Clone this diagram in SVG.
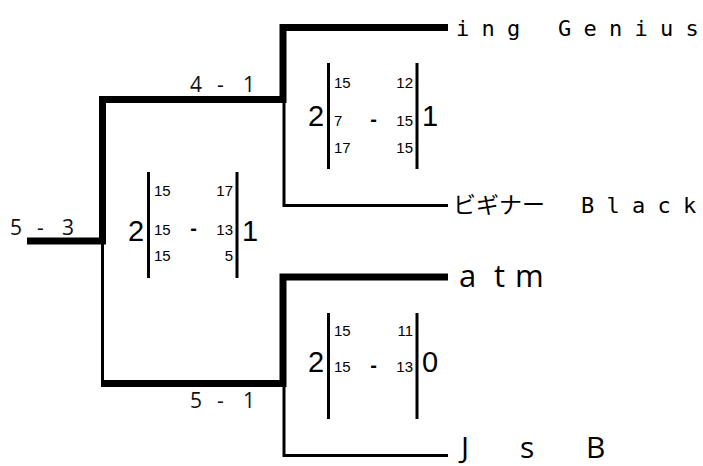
<svg xmlns="http://www.w3.org/2000/svg" width="703" height="466" viewBox="0 0 703 466">
<style>
.thick{fill:none;stroke:#000;stroke-width:7;stroke-linejoin:miter;stroke-linecap:butt}
.thin{fill:none;stroke:#000;stroke-width:3;stroke-linecap:butt}
.bar{stroke:#000;stroke-width:3}
.lbl{font-family:"Open Sans","Noto Sans",sans-serif;font-size:21px;fill:#111}
.big{font-family:"Liberation Sans",Arial,sans-serif;font-size:29px;fill:#000}
.sm{font-family:"Liberation Sans",Arial,sans-serif;font-size:15px;fill:#000}
.dash{font-family:"Liberation Sans",Arial,sans-serif;font-size:20px;font-weight:bold;fill:#000;text-anchor:middle}
.mono{font-family:"DejaVu Sans Mono","Liberation Mono","Noto Sans CJK JP",monospace;font-size:22px;fill:#000}
.cjk{font-family:"Noto Sans CJK JP",sans-serif;font-size:23px}
.name{font-family:"Open Sans","Noto Sans",sans-serif;font-size:31px;fill:#000}
</style>
<g id="connectors">
<path class="thick" d="M27,241 H102.5 V99.5 H283 V27.5 H448"/>
<path class="thin" d="M102.5,241 V383.5"/>
<path class="thick" d="M101,383.5 H283 V277 H448"/>
<path class="thin" d="M284,99.5 V205.5 H448"/>
<path class="thin" d="M284,383.5 V455.5 H448"/>
</g>
<g id="edge-labels">
<text class="lbl" x="10 24 37 51 62" y="235">5 - 3</text>
<text class="lbl" x="190 204 217 231 243" y="92">4 - 1</text>
<text class="lbl" x="190 204 217 231 243" y="408">5 - 1</text>
</g>
<g id="score-final">
<text class="big" x="128" y="241">2</text>
<line class="bar" x1="148.5" y1="172" x2="148.5" y2="278"/>
<line class="bar" x1="237" y1="172" x2="237" y2="278"/>
<text class="big" x="242" y="241">1</text>
<text class="sm" x="154" y="196">15</text><text class="sm" x="233" y="196" text-anchor="end">17</text>
<text class="sm" x="154" y="235">15</text><text class="dash" x="193.5" y="235">-</text><text class="sm" x="233" y="235" text-anchor="end">13</text>
<text class="sm" x="154" y="261">15</text><text class="sm" x="233" y="261" text-anchor="end">5</text>
</g>
<g id="score-upper">
<text class="big" x="308" y="126">2</text>
<line class="bar" x1="328.5" y1="63" x2="328.5" y2="169"/>
<line class="bar" x1="417" y1="63" x2="417" y2="169"/>
<text class="big" x="422" y="126">1</text>
<text class="sm" x="334" y="88">15</text><text class="sm" x="413" y="88" text-anchor="end">12</text>
<text class="sm" x="334" y="126">7</text><text class="dash" x="373.5" y="126">-</text><text class="sm" x="413" y="126" text-anchor="end">15</text>
<text class="sm" x="334" y="153">17</text><text class="sm" x="413" y="153" text-anchor="end">15</text>
</g>
<g id="score-lower">
<text class="big" x="308" y="372">2</text>
<line class="bar" x1="328.5" y1="313" x2="328.5" y2="419"/>
<line class="bar" x1="417" y1="313" x2="417" y2="419"/>
<text class="big" x="422" y="372">0</text>
<text class="sm" x="334" y="336">15</text><text class="sm" x="413" y="336" text-anchor="end">11</text>
<text class="sm" x="334" y="372">15</text><text class="dash" x="373.5" y="372">-</text><text class="sm" x="413" y="372" text-anchor="end">13</text>
</g>
<g id="team-ing-genius"><text class="mono" x="456 481.5 507 532.5 558 583.5 609 634.5 660 685.5" y="36">ing Genius</text></g>
<g id="team-beginner-black"><text class="mono" y="213"><tspan class="cjk" x="453">ビギナー</tspan> <tspan x="581 606.5 632 657.5 683">Black</tspan></text></g>
<g id="team-atm"><text class="name" x="459 474 494 506 515" y="287">a t m</text></g>
<g id="team-jsb"><text class="name" x="461 480 520 560 586" y="458" style="font-size:30px">J s B</text></g>
</svg>
